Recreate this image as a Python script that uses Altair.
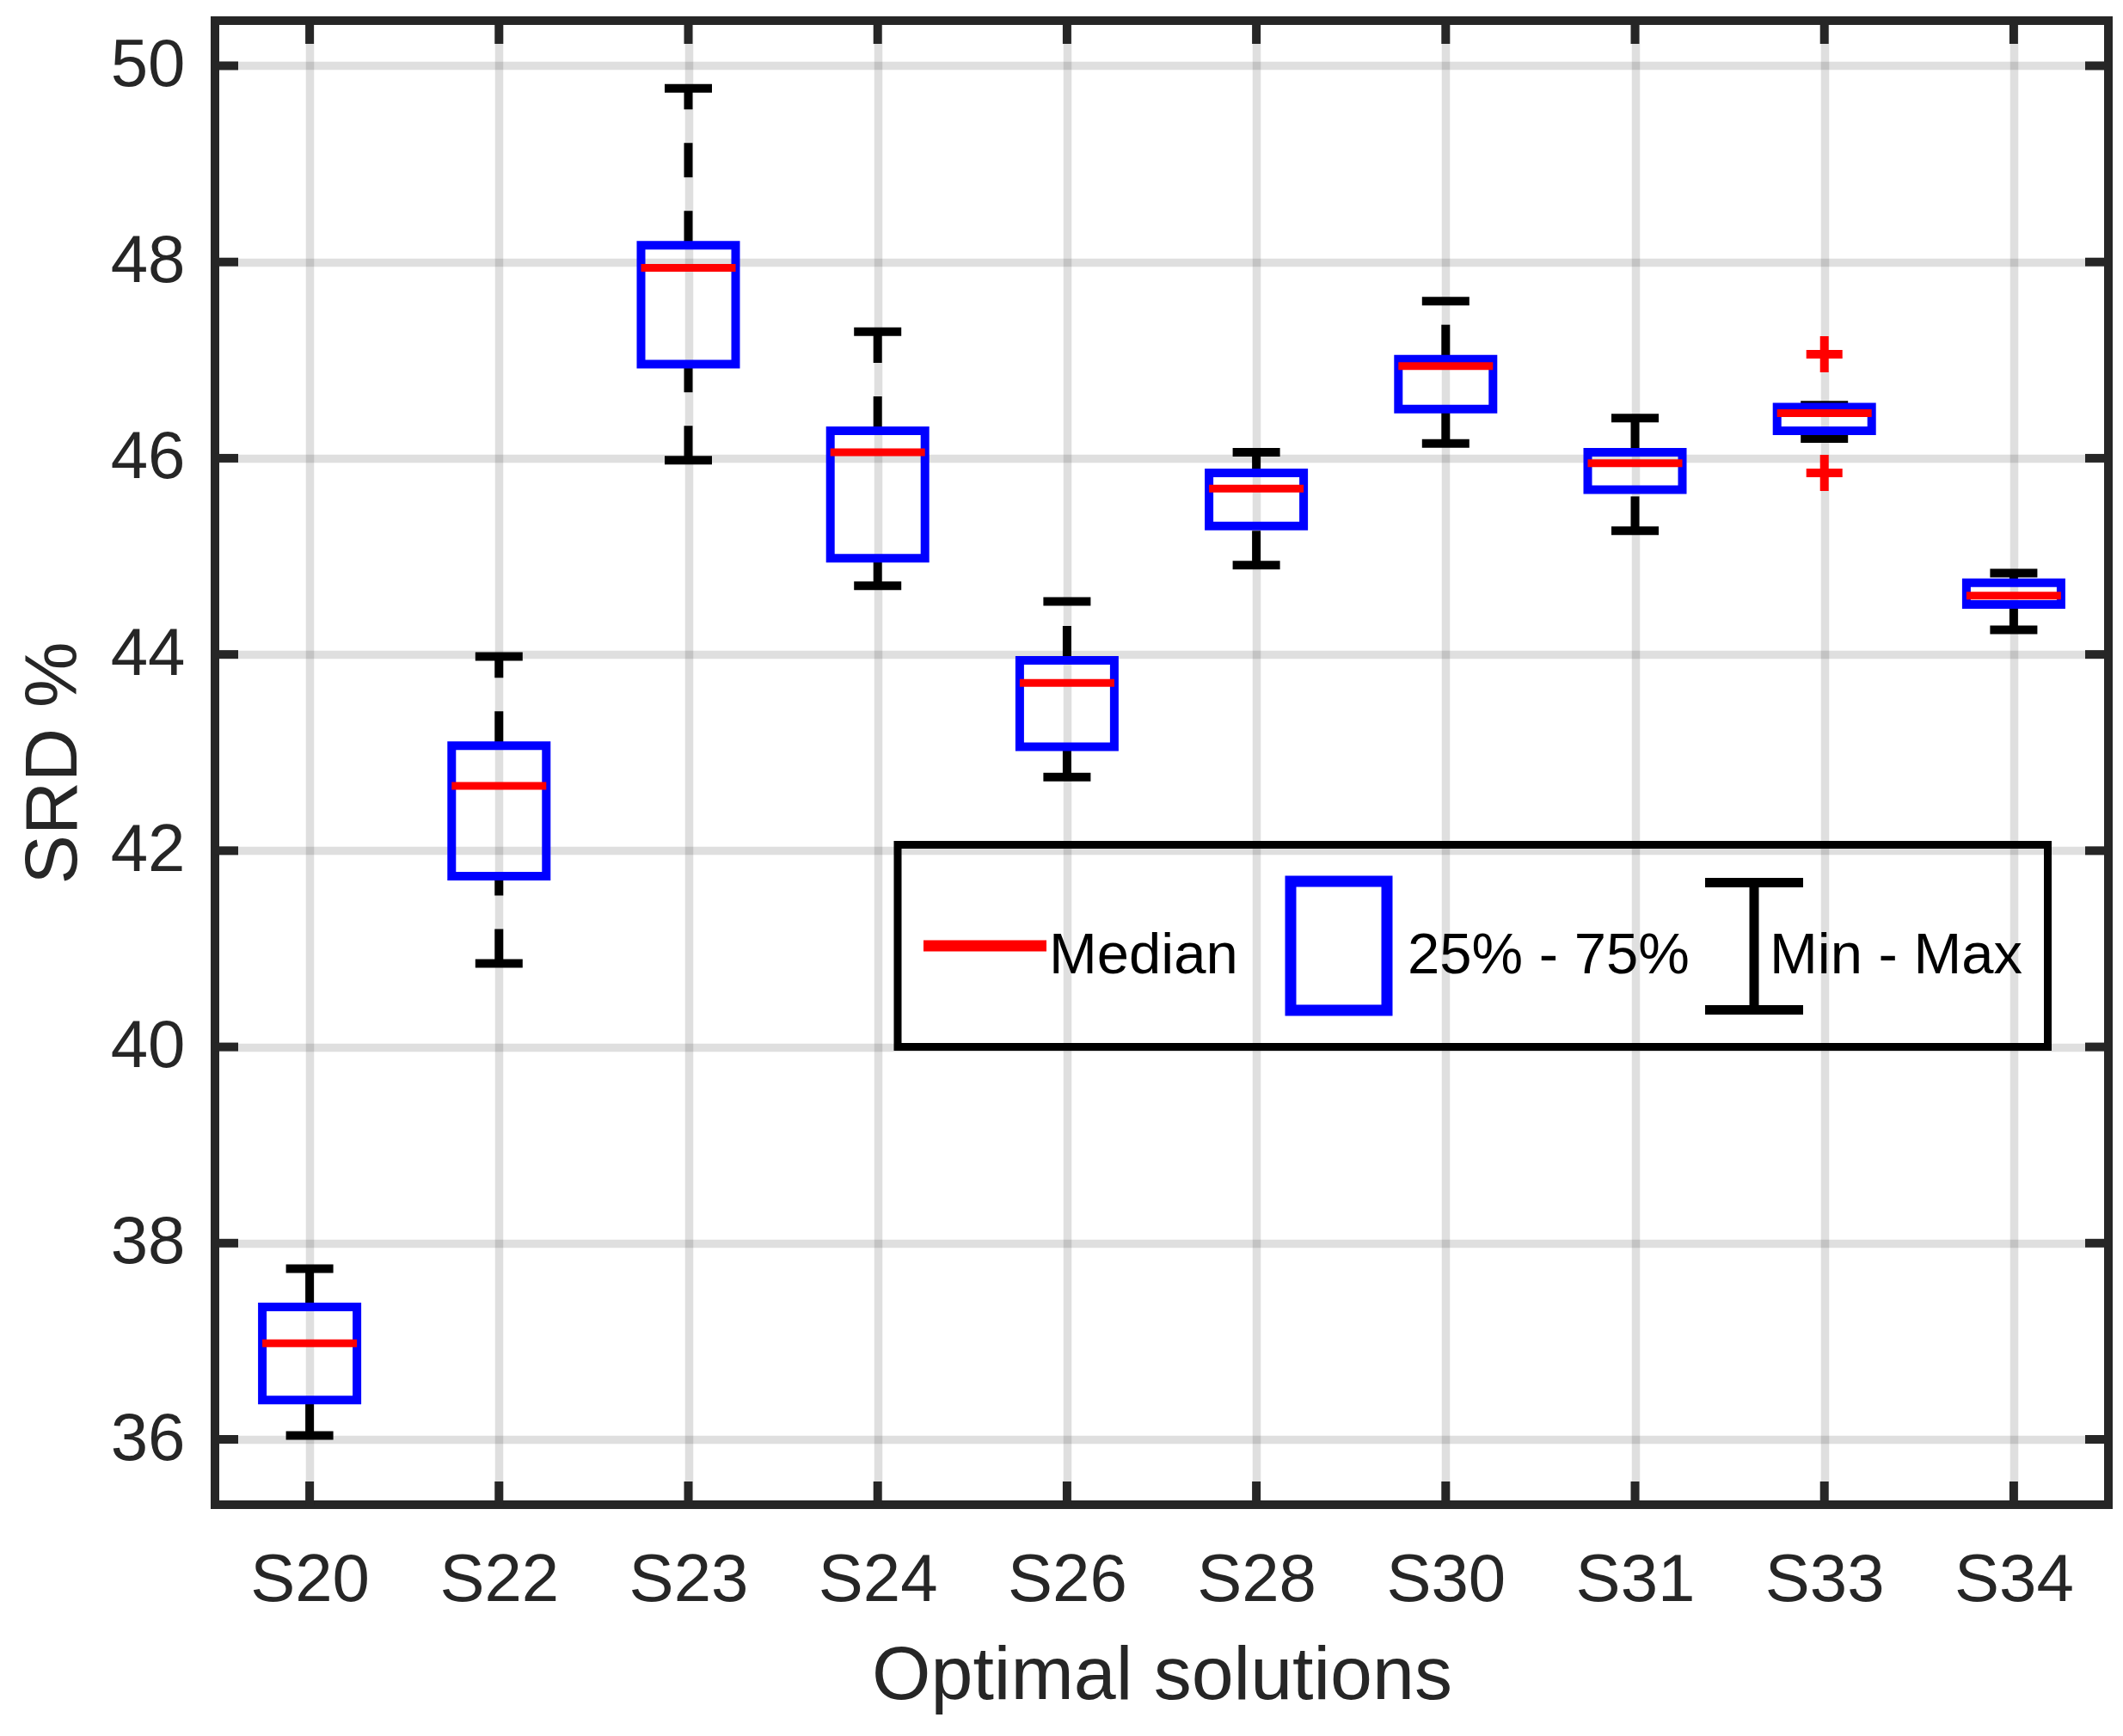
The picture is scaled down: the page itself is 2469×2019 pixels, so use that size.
import altair as alt
import pandas as pd

# ---- data ----
categories = ["S20", "S22", "S23", "S24", "S26", "S28", "S30", "S31", "S33", "S34"]
mins    = [36.04, 40.85, 45.98, 44.70, 42.75, 44.91, 46.15, 45.26, 46.20, 44.25]
q1s     = [36.40, 41.74, 46.96, 44.98, 43.06, 45.31, 46.50, 45.68, 46.28, 44.51]
medians = [36.98, 42.66, 47.94, 46.06, 43.71, 45.69, 46.94, 45.95, 46.46, 44.60]
q3s     = [37.35, 43.07, 48.17, 46.28, 43.94, 45.85, 47.01, 46.06, 46.52, 44.73]
maxs    = [37.74, 43.98, 49.77, 47.29, 44.54, 46.06, 47.60, 46.41, 46.54, 44.83]
outlier_cats = ["S33", "S33"]
outlier_vals = [47.06, 45.85]
y_ticks = [36, 38, 40, 42, 44, 46, 48, 50]
legend_labels = ["Median", "25% - 75%", "Min - Max"]
x_title = "Optimal solutions"
y_title = "SRD %"

df = pd.DataFrame({"cat": categories, "mn": mins, "q1": q1s, "med": medians,
                   "q3": q3s, "mx": maxs})
df_out = pd.DataFrame({"cat": outlier_cats, "v": outlier_vals})
df_yt = pd.DataFrame({"v": y_ticks})
df_one = pd.DataFrame({"a": [0]})

W, H = 2202, 1726
FONT = "Liberation Sans, Arial, Helvetica, sans-serif"
AX = "#262626"

yscale = alt.Scale(domain=[35.334, 50.46], nice=False, zero=False)
xscale = alt.Scale(type="point", padding=0.5, domain=categories)

x_axis = alt.Axis(title=x_title, grid=True, gridColor=AX, gridOpacity=0.15, gridWidth=9.5,
                  ticks=False, tickSize=0, domain=False, labelAngle=0,
                  labelFont=FONT, labelFontSize=78, labelColor=AX,
                  labelBaseline="alphabetic", labelPadding=111,
                  titleFont=FONT, titleFontSize=88, titleFontWeight="normal", titleColor=AX,
                  titleX=W / 2, titleY=225, titleBaseline="alphabetic", titleAlign="center")
y_axis = alt.Axis(title=y_title, values=y_ticks, grid=True, gridColor=AX, gridOpacity=0.15,
                  gridWidth=9.5, ticks=False, tickSize=0, domain=False,
                  labelFont=FONT, labelFontSize=78, labelColor=AX, labelPadding=35,
                  titleFont=FONT, titleFontSize=86, titleFontWeight="normal", titleColor=AX,
                  titleX=-162, titleY=H / 2, titleAngle=270, titleBaseline="alphabetic",
                  titleAlign="center")

def X():
    return alt.X("cat:N", scale=xscale, axis=x_axis, sort=categories)

def Y(f):
    return alt.Y(f, type="quantitative", scale=yscale, axis=y_axis)

base = alt.Chart(df)

low_whisker = base.mark_rule(color="black", strokeWidth=10, strokeDash=[40, 39]).encode(
    x=X(), y=Y("mn"), y2="q1")
up_whisker = base.mark_rule(color="black", strokeWidth=10, strokeDash=[40, 39]).encode(
    x=X(), y=Y("q3"), y2="mx")
cap_low = base.mark_tick(color="black", size=55, thickness=10, opacity=1,
                         orient="horizontal").encode(x=X(), y=Y("mn"))
cap_up = base.mark_tick(color="black", size=55, thickness=10, opacity=1,
                        orient="horizontal").encode(x=X(), y=Y("mx"))
box = base.mark_bar(filled=False, color="#0000ff", strokeWidth=10, size=110).encode(
    x=X(), y=Y("q1"), y2="q3")
med = base.mark_tick(color="#ff0000", size=110, thickness=9, opacity=1,
                     orient="horizontal").encode(x=X(), y=Y("med"))
outl = alt.Chart(df_out).mark_point(shape="M-1,0H1M0,-1V1", size=1764, strokeWidth=10,
                                    color="#ff0000", filled=False, opacity=1).encode(
    x=X(), y=Y("v"))

# inward ticks
xt_top = base.mark_rule(color=AX, strokeWidth=10).encode(
    x=X(), y=alt.value(0), y2=alt.value(27))
xt_bot = base.mark_rule(color=AX, strokeWidth=10).encode(
    x=X(), y=alt.value(H - 27), y2=alt.value(H))
yt_left = alt.Chart(df_yt).mark_rule(color=AX, strokeWidth=10).encode(
    y=Y("v"), x=alt.value(0), x2=alt.value(27))
yt_right = alt.Chart(df_yt).mark_rule(color=AX, strokeWidth=10).encode(
    y=Y("v"), x=alt.value(W - 27), x2=alt.value(W))

# legend
one = alt.Chart(df_one)
leg_box = one.mark_rect(fillOpacity=0, stroke="black", strokeWidth=9).encode(
    x=alt.value(794), x2=alt.value(2131.5), y=alt.value(958.5), y2=alt.value(1193.5))
leg_med = one.mark_rule(color="#ff0000", strokeWidth=13).encode(
    x=alt.value(824), x2=alt.value(967), y=alt.value(1076))
leg_rect = one.mark_rect(fillOpacity=0, stroke="#0000ff", strokeWidth=13).encode(
    x=alt.value(1251), x2=alt.value(1363), y=alt.value(1001), y2=alt.value(1151))
leg_iv = one.mark_rule(color="black", strokeWidth=11).encode(
    x=alt.value(1790), y=alt.value(1002.5), y2=alt.value(1150.5))
leg_it = one.mark_rule(color="black", strokeWidth=11).encode(
    x=alt.value(1733), x2=alt.value(1847), y=alt.value(1002.5))
leg_ib = one.mark_rule(color="black", strokeWidth=11).encode(
    x=alt.value(1733), x2=alt.value(1847), y=alt.value(1150.5))
leg_texts = []
for lab, xp in zip(legend_labels, [970, 1387, 1808]):
    leg_texts.append(one.mark_text(align="left", baseline="alphabetic", font=FONT,
                                   fontSize=67, color="black").encode(
        x=alt.value(xp), y=alt.value(1108), text=alt.value(lab)))

chart = alt.layer(
    low_whisker, up_whisker, cap_low, cap_up, box, med, outl,
    xt_top, xt_bot, yt_left, yt_right,
    leg_box, leg_med, leg_rect, leg_iv, leg_it, leg_ib, *leg_texts
).properties(
    width=W, height=H,
    autosize=alt.AutoSizeParams(type="none"),
    padding={"left": 242, "top": 16, "right": 5, "bottom": 250},
    background="white",
).configure_view(stroke=AX, strokeWidth=10)

chart.save("out.html", embed_options={"renderer": "svg", "actions": False})
